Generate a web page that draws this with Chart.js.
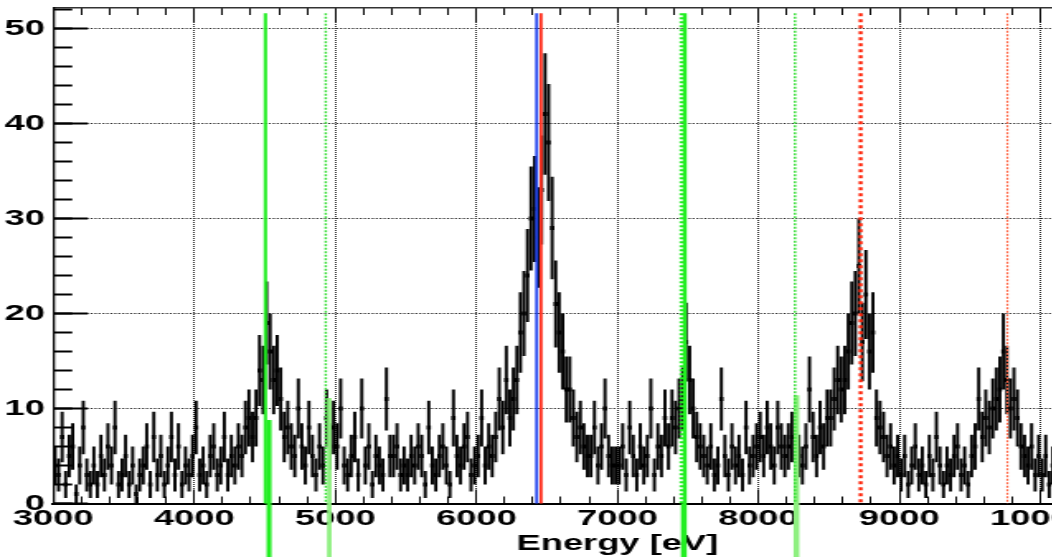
<!DOCTYPE html>
<html>
<head>
<meta charset="utf-8">
<title>Energy spectrum</title>
<script src="https://cdn.jsdelivr.net/npm/chart.js@4.4.1/dist/chart.umd.min.js"></script>
<style>
  html, body { margin: 0; padding: 0; background: #fff; overflow: hidden; width: 1052px; height: 557px; }
  /* the original plot is stretched sideways, so draw it narrow and stretch it */
  #wrap { position: absolute; left: 0; top: 0; transform: scaleX(1.65); transform-origin: 0 0; }
  canvas { display: block; }
</style>
</head>
<body>
<div id="wrap"><canvas id="spectrum" width="760" height="557"></canvas></div>
<script>
// histogram: 25 eV bins starting at 3000 eV
const BIN_START = 3000;
const BIN_WIDTH = 25;
const counts = [
  4, 3, 7, 2, 5, 6, 1, 4, 8, 3, 2, 4, 2, 5, 3, 6, 4, 8, 2, 3,         // 3000
  5, 2, 4, 1, 3, 4, 6, 2, 7, 3, 5, 2, 4, 7, 3, 6, 2, 4, 3, 5,         // 3500
  8, 3, 4, 2, 5, 6, 3, 4, 7, 3, 5, 4, 6, 5, 8, 9, 7, 9, 14, 13,       // 4000
  19, 16, 13, 14, 11, 7, 8, 6, 5, 10, 6, 4, 8, 5, 3, 6, 4, 9, 6, 8,   // 4500
  6, 10, 4, 3, 5, 7, 3, 10, 4, 6, 2, 5, 4, 3, 11, 5, 5, 6, 3, 4,      // 5000
  3, 5, 4, 6, 5, 2, 8, 4, 3, 5, 6, 4, 2, 9, 5, 4, 6, 7, 3, 4,         // 5500
  5, 9, 4, 6, 5, 7, 11, 8, 13, 9, 11, 13, 18, 20, 24, 30, 31, 28, 33, 41, // 6000
  38, 29, 21, 18, 16, 12, 12, 9, 7, 8, 6, 5, 5, 8, 4, 6, 10, 5, 4, 4, // 6500
  4, 6, 3, 8, 5, 3, 6, 4, 5, 10, 3, 6, 5, 9, 6, 9, 8, 10, 11, 17,     // 7000
  13, 10, 7, 6, 5, 4, 6, 3, 4, 11, 5, 3, 6, 4, 5, 3, 8, 4, 5, 6,      // 7500
  7, 5, 8, 6, 4, 8, 6, 5, 6, 7, 7, 5, 4, 6, 12, 7, 5, 8, 6, 9,        // 8000
  9, 11, 13, 12, 13, 16, 19, 20, 25, 17, 22, 16, 18, 9, 8, 7, 5, 6, 4, 5, // 8500
  3, 5, 2, 4, 6, 3, 4, 2, 5, 3, 7, 4, 2, 4, 3, 5, 6, 3, 4, 2,         // 9000
  5, 6, 11, 7, 9, 8, 10, 11, 12, 16, 13, 10, 11, 9, 6, 5, 4, 6, 3, 5, // 9500
  3, 5, 2, 4                                                          // 10000
];

const xTickValues = [3000, 4000, 5000, 6000, 7000, 8000, 9000, 10000, 11000];
const yTickValues = [0, 10, 20, 30, 40, 50];

// line markers (energy, top and bottom in counts)
const lineEnergies = [4504, 4530, 4932, 4957, 6428, 6459, 7455, 7478, 7465, 8260, 8270, 8725, 9766];
const lineTops     = [51.6, 8.8, 51.6, 11.1, 51.6, 51.6, 51.6, 51.6, 0, 51.6, 11.4, 51.6, 51.6];
const lineBottoms  = [0, -6, 0, -6, 0, 0, 0, -6, -6, 0, -6, 0, 0];

const GREEN = '#22ee22';
const PALE = '#8ef080';
const markerStyles = [
  { color: GREEN, width: 2 },
  { color: GREEN, width: 3 },
  { color: '#33dd33', width: 1.4, dash: [2, 1.5] },
  { color: PALE, width: 2.7 },
  { color: '#2244ee', width: 1.8 },
  { color: '#ff3322', width: 1.8 },
  { color: GREEN, width: 2.4, dash: [2, 2] },
  { color: GREEN, width: 2.4 },
  { color: GREEN, width: 2.4 },
  { color: '#33dd33', width: 1.4, dash: [2, 1.5] },
  { color: PALE, width: 3.5 },
  { color: '#ff2a10', width: 2.4, dash: [3, 3] },
  { color: '#ff6644', width: 1.2, dash: [2, 1.5] }
];

const centers = counts.map((_, i) => BIN_START + BIN_WIDTH * (i + 0.5));

const font = "'Liberation Sans', Arial, sans-serif";
const tickFont = { family: font, size: 22, weight: 'bold' };
Chart.defaults.font.family = font;

const noPad = (s) => { s.paddingLeft = 0; s.paddingRight = 0; s.paddingTop = 0; s.paddingBottom = 0; };

const errorBars = {
  type: 'bar',
  data: counts.map((c, i) => ({ x: centers[i], y: [c - Math.sqrt(c), c + Math.sqrt(c)] })),
  backgroundColor: '#000',
  borderWidth: 0,
  grouped: false,
  categoryPercentage: 1,
  barPercentage: 0.9,
  xAxisID: 'x', yAxisID: 'y',
  order: 5
};

const binMarks = {
  type: 'bar',
  data: counts.map((c, i) => ({ x: centers[i], y: [c - 0.2, c + 0.2] })),
  backgroundColor: '#000',
  borderWidth: 0,
  grouped: false,
  categoryPercentage: 1,
  barPercentage: 1.2,
  xAxisID: 'x', yAxisID: 'y',
  order: 4
};

const markers = lineEnergies.map((e, i) => ({
  type: 'line',
  data: [{ x: e, y: lineTops[i] }, { x: e, y: lineBottoms[i] }],
  borderColor: markerStyles[i].color,
  borderWidth: markerStyles[i].width,
  borderDash: markerStyles[i].dash || [],
  pointRadius: 0,
  fill: false,
  clip: false,
  xAxisID: 'x', yAxisID: 'y',
  order: 0
}));

const minorAxis = (axis, position, min, max, step, len) => ({
  type: 'linear', axis, position, weight: 0, min, max, offset: false,
  ticks: { display: false, stepSize: step, includeBounds: false },
  grid: { offset: false, drawOnChartArea: false, tickLength: len, tickWidth: axis === 'y' ? 2 : 1, tickColor: '#000' },
  border: { display: false },
  afterFit: (s) => { if (axis === 'y') s.width = 0; else s.height = 0; noPad(s); }
});

new Chart(document.getElementById('spectrum'), {
  type: 'bar',
  data: { datasets: [...markers, binMarks, errorBars] },
  options: {
    responsive: false,
    devicePixelRatio: 1,
    animation: false,
    layout: { padding: { left: 0, right: 44, top: 8, bottom: 0 } },
    plugins: { legend: { display: false }, tooltip: { enabled: false } },
    scales: {
      x: {
        type: 'linear', axis: 'x', position: 'bottom', weight: 1,
        min: 3000, max: 11000, offset: false,
        afterBuildTicks: (s) => { s.ticks = xTickValues.map(v => ({ value: v })); },
        ticks: { color: '#000', font: tickFont, padding: 15.8, autoSkip: false, maxRotation: 0, callback: v => String(v) },
        grid: { offset: false, color: '#222', lineWidth: 1, tickLength: -14, tickWidth: 1, tickColor: '#000' },
        border: { display: true, color: '#000', width: 2, dash: [1, 1] },
        title: { display: true, text: 'Energy [eV]', color: '#000', font: tickFont, padding: { top: 0, bottom: 0 } },
        afterFit: (s) => { s.height = 53.5; noPad(s); }
      },
      xBottomMinor: minorAxis('x', 'bottom', 3000, 11000, 200, -7),
      xTop: {
        type: 'linear', axis: 'x', position: 'top', weight: 1,
        min: 3000, max: 11000, offset: false,
        afterBuildTicks: (s) => { s.ticks = xTickValues.map(v => ({ value: v })); },
        ticks: { display: false },
        grid: { offset: false, drawOnChartArea: false, tickLength: -14, tickWidth: 1, tickColor: '#000' },
        border: { display: true, color: '#333', width: 1.5 },
        afterFit: (s) => { s.height = 0; noPad(s); }
      },
      xTopMinor: minorAxis('x', 'top', 3000, 11000, 200, -7),
      y: {
        type: 'linear', axis: 'y', position: 'left', weight: 1,
        min: 0, max: 52.16,
        afterBuildTicks: (s) => { s.ticks = yTickValues.map(v => ({ value: v })); },
        ticks: { color: '#000', font: tickFont, padding: 26, callback: v => String(v) },
        grid: { color: '#222', lineWidth: 1, tickLength: -21, tickWidth: 2, tickColor: '#000' },
        border: { display: true, color: '#000', width: 1.3, dash: [1.2, 1.2] },
        afterFit: (s) => { s.width = 32.3; noPad(s); }
      },
      yMinor: minorAxis('y', 'left', 0, 52.16, 2, -11.5)
    }
  }
});
</script>
</body>
</html>
